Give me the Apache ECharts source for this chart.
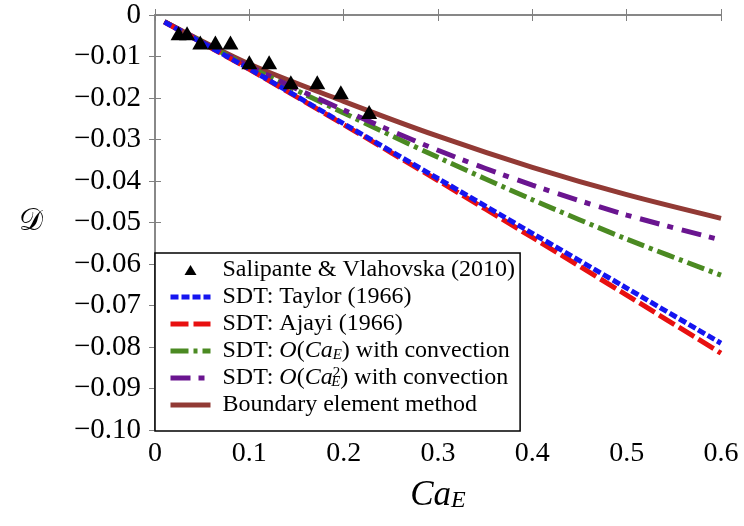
<!DOCTYPE html>
<html><head><meta charset="utf-8">
<script src="https://cdn.jsdelivr.net/npm/echarts@6/dist/echarts.min.js"></script>
<style>html,body{margin:0;padding:0;background:#fff}#c{width:744px;height:526px}</style>
</head><body><div id="c"></div>
<script>
// Experimental data (Salipante & Vlahovska 2010)
const expX = [0.025, 0.034, 0.048, 0.064, 0.080, 0.100, 0.121, 0.144, 0.172, 0.197, 0.227];
const expY = [-0.0044, -0.0044, -0.0066, -0.0066, -0.0066, -0.0114, -0.0114, -0.0162, -0.0162, -0.0186, -0.0234];
// Curves sampled at these Ca_E values
const caE = [0.01, 0.1, 0.2, 0.3, 0.4, 0.5, 0.6];
const taylor = [-0.0017, -0.0130, -0.0262, -0.0394, -0.0526, -0.0658, -0.0791];
const ajayi = [-0.0017, -0.0131, -0.0264, -0.0399, -0.0536, -0.0675, -0.0815];
const convO1 = [-0.0016, -0.0125, -0.0236, -0.0343, -0.0445, -0.0540, -0.0627];
const convO2 = [-0.0016, -0.0124, -0.0229, -0.0326, -0.0410, -0.0482, -0.0542];
const bem = [-0.0016, -0.0118, -0.0208, -0.0292, -0.0367, -0.0433, -0.0490];
const xTicks = [0, 0.1, 0.2, 0.3, 0.4, 0.5, 0.6];
const seriesNames = ['Salipante & Vlahovska (2010)', 'SDT: Taylor (1966)', 'SDT: Ajayi (1966)', 'SDT: O(Ca_E) with convection', 'SDT: O(Ca_E^2) with convection', 'Boundary element method'];

const pair = (xs, ys) => xs.map((x, i) => [x, ys[i]]);
const serif = 'Liberation Serif';
const chart = echarts.init(document.getElementById('c'), null, {renderer: 'canvas'});
const axisGrey = '#808080';
function lineSeries(name, ys, color, dash, z) {
  return {name, type: 'line', data: pair(caE, ys), symbol: 'none', smooth: 0.3, z: z || 2,
    lineStyle: {color, width: 5, type: dash, cap: 'butt'}, itemStyle: {color}};
}
const legendFmt = {
  [seriesNames[0]]: 'Salipante & Vlahovska (2010)',
  [seriesNames[1]]: 'SDT: Taylor (1966)',
  [seriesNames[2]]: 'SDT: Ajayi (1966)',
  [seriesNames[3]]: 'SDT: {i|O}({i|Ca}{s|E}) with convection',
  [seriesNames[4]]: 'SDT: {i|O}({i|Ca}{ss|2}{sb|E}) with convection',
  [seriesNames[5]]: 'Boundary element method'
};
chart.setOption({
  animation: false,
  backgroundColor: '#fff',
  grid: {left: 155, right: 23, top: 15, bottom: 96, containLabel: false},
  xAxis: [{
    type: 'value', min: 0, max: 0.6, interval: 0.1,
    name: '{i|Ca}{s|E}', nameLocation: 'middle', nameGap: 48,
    nameTextStyle: {rich: {i: {fontFamily: serif, fontStyle: 'italic', fontSize: 35, color: '#000'},
                           s: {fontFamily: serif, fontStyle: 'italic', fontSize: 24, color: '#000', verticalAlign: 'bottom'}}},
    axisLine: {lineStyle: {color: axisGrey, width: 1.5}},
    axisTick: {inside: true, length: 6, lineStyle: {color: axisGrey}},
    splitLine: {show: false},
    axisLabel: {fontFamily: serif, fontSize: 28, color: '#000', margin: 10,
      formatter: v => v === 0 ? '0' : v.toFixed(1)}
  }, {
    type: 'value', min: 0, max: 0.6, interval: 0.1, position: 'top',
    axisLine: {lineStyle: {color: axisGrey, width: 1.5}},
    axisTick: {inside: true, length: 6, lineStyle: {color: axisGrey}},
    axisLabel: {show: false}, splitLine: {show: false}
  }],
  yAxis: [{
    type: 'value', min: -0.1, max: 0, interval: 0.01,
    name: '𝒟', nameLocation: 'middle', nameRotate: 0, nameGap: 112,
    nameTextStyle: {fontFamily: 'DejaVu Serif', fontSize: 30, color: '#000'},
    axisLine: {lineStyle: {color: axisGrey, width: 1.5}},
    axisTick: {inside: true, length: 6, lineStyle: {color: axisGrey}},
    splitLine: {show: false},
    axisLabel: {fontFamily: serif, fontSize: 29, color: '#000', margin: 14,
      formatter: v => Math.abs(v) < 1e-9 ? '0' : '\u2212' + Math.abs(v).toFixed(2)}
  }, {
    type: 'value', min: -0.1, max: 0, interval: 0.01, position: 'right',
    axisLine: {lineStyle: {color: axisGrey, width: 1.5}},
    axisTick: {inside: true, length: 6, lineStyle: {color: axisGrey}},
    axisLabel: {show: false}, splitLine: {show: false}
  }],
  legend: {
    orient: 'vertical', left: 155, top: 253,
    backgroundColor: '#fff', borderColor: '#000', borderWidth: 1.5,
    padding: [5, 5, 14, 13], itemGap: 3, itemWidth: 40, itemHeight: 14,
    itemStyle: {opacity: 0},
    lineStyle: {width: 5},
    textStyle: {fontFamily: serif, fontSize: 24, lineHeight: 24, color: '#000', padding: [0, 0, 0, 7],
      rich: {i: {fontFamily: serif, fontStyle: 'italic', fontSize: 24, lineHeight: 24},
             s: {fontFamily: serif, fontStyle: 'italic', fontSize: 15, lineHeight: 24, verticalAlign: 'bottom'},
             ss: {fontFamily: serif, fontSize: 15, lineHeight: 24, verticalAlign: 'top', padding: [0, -9, 0, 0]},
             sb: {fontFamily: serif, fontStyle: 'italic', fontSize: 15, lineHeight: 24, verticalAlign: 'bottom'}}},
    formatter: n => legendFmt[n],
    data: seriesNames.map((n, i) => i === 0
      ? {name: n, icon: 'path://M0,0 M20,2 L26,12 L14,12 Z M40,14', itemStyle: {opacity: 1, color: '#000'}}
      : {name: n})
  },
  series: [
    {name: seriesNames[0], type: 'scatter', data: pair(expX, expY), symbol: 'triangle', symbolSize: [16, 14],
      itemStyle: {color: '#000', opacity: 1}, z: 10},
    lineSeries(seriesNames[1], taylor, '#1515f0', [8, 3], 5),
    lineSeries(seriesNames[2], ajayi, '#e81010', [18, 5], 4),
    lineSeries(seriesNames[3], convO1, '#4b8a22', [18, 5, 4, 5], 3),
    lineSeries(seriesNames[4], convO2, '#6a1590', [20, 8, 6, 9], 3),
    lineSeries(seriesNames[5], bem, '#923a35', 'solid', 2)
  ]
});
</script></body></html>
